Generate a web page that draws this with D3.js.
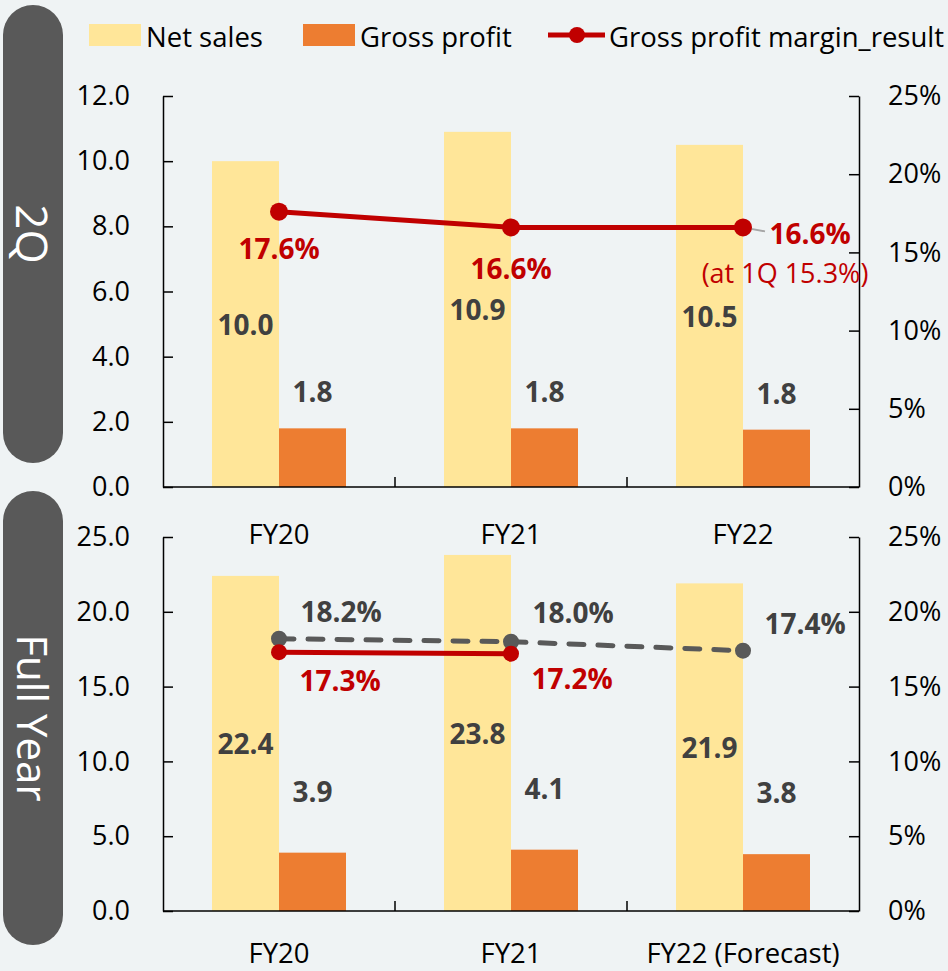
<!DOCTYPE html>
<html>
<head>
<meta charset="utf-8">
<script src="https://cdn.jsdelivr.net/npm/d3@7"></script>
<style>
  html, body { margin: 0; padding: 0; background: #eff3f4; }
  svg { display: block; font-family: "Open Sans", "Noto Sans", sans-serif; }
</style>
</head>
<body>
<svg id="chart" width="948" height="971"></svg>
<script>
// chart values
const categories = ["FY20", "FY21", "FY22"];
const labels2Q = ["FY20", "FY21", "FY22"];
const labelsFY = ["FY20", "FY21", "FY22 (Forecast)"];

const netSales2Q = [10.0, 10.9, 10.5];
const grossProfit2Q = [1.8, 1.8, 1.76];
const marginResult2Q = [17.6, 16.6, 16.6];

const netSalesFY = [22.4, 23.8, 21.9];
const grossProfitFY = [3.9, 4.1, 3.8];
const marginResultFY = [17.3, 17.2];
const marginPlanFY = [18.2, 18.0, 17.4];

const leftTicks2Q = [0, 2, 4, 6, 8, 10, 12];
const leftTicksFY = [0, 5, 10, 15, 20, 25];
const rightTicks = [0, 5, 10, 15, 20, 25];

const colNet = "#ffe699", colGross = "#ed7d31", colRed = "#c00000", colGray = "#595959";
const colLabel = "#404040";

const svg = d3.select("#chart");
const left = 163, right = 859;

const x = d3.scaleBand().domain(categories).range([left, right]);
const sub = d3.scaleBand().domain(["net", "gross"]).range([49, 183]);
const cx = c => x(c) + x.bandwidth() / 2;

// Legend
const lg = svg.append("g").attr("class", "legend");
lg.append("rect").attr("x", 89).attr("y", 24).attr("width", 52).attr("height", 22).attr("fill", colNet);
lg.append("text").attr("x", 146).attr("y", 36).text("Net sales");
lg.append("rect").attr("x", 303).attr("y", 24).attr("width", 52).attr("height", 22).attr("fill", colGross);
lg.append("text").attr("x", 360).attr("y", 36).text("Gross profit");
lg.append("line").attr("x1", 548).attr("x2", 605).attr("y1", 35).attr("y2", 35)
  .attr("stroke", colRed).attr("stroke-width", 5);
lg.append("circle").attr("cx", 577).attr("cy", 35).attr("r", 8).attr("fill", colRed);
lg.append("text").attr("x", 609).attr("y", 36).text("Gross profit margin_result");
lg.selectAll("text").attr("font-size", 27.5).attr("fill", "#000").attr("dominant-baseline", "central");

function panel(opt) {
  const g = svg.append("g");
  const y = d3.scaleLinear().domain([0, opt.yMax]).range([opt.y0, opt.y1]);
  const yr = d3.scaleLinear().domain([0, 25]).range([opt.y0, opt.y1]);

  // side pill
  g.append("rect").attr("x", 3).attr("y", opt.pill[0]).attr("width", 60)
    .attr("height", opt.pill[1] - opt.pill[0]).attr("rx", 30).attr("fill", "#595959");
  g.append("text")
    .attr("transform", `translate(33,${(opt.pill[0] + opt.pill[1]) / 2}) rotate(90)`)
    .attr("text-anchor", "middle").attr("dominant-baseline", "central")
    .attr("font-size", opt.titleSize).attr("fill", "#fff").text(opt.title);

  // bars
  const rows = categories.map((c, i) => ({ c, net: opt.net[i], gross: opt.gross[i] }));
  g.selectAll(".net").data(rows).join("rect").attr("class", "net")
    .attr("x", d => x(d.c) + sub("net")).attr("width", sub.bandwidth())
    .attr("y", d => y(d.net)).attr("height", d => opt.y0 - y(d.net)).attr("fill", colNet);
  g.selectAll(".gross").data(rows).join("rect").attr("class", "gross")
    .attr("x", d => x(d.c) + sub("gross")).attr("width", sub.bandwidth())
    .attr("y", d => y(d.gross)).attr("height", d => opt.y0 - y(d.gross)).attr("fill", colGross);

  // axes
  const ax = g.append("g").attr("transform", `translate(${left},0)`)
    .call(d3.axisLeft(y).tickValues(opt.ticks).tickSize(-10).tickSizeOuter(0)
      .tickPadding(33).tickFormat(d3.format(".1f")));
  const axr = g.append("g").attr("transform", `translate(${right},0)`)
    .call(d3.axisRight(yr).tickValues(rightTicks).tickSize(-10).tickSizeOuter(0)
      .tickPadding(29).tickFormat(d => d + "%"));
  [ax, axr].forEach(a => {
    a.attr("font-family", null).attr("font-size", null);
    a.selectAll("text").attr("font-size", 27).attr("fill", "#000");
    a.selectAll("line,path").attr("stroke", "#000").attr("stroke-width", 1.5);
  });
  g.append("line").attr("x1", left).attr("x2", right).attr("y1", opt.y0).attr("y2", opt.y0)
    .attr("stroke", "#000").attr("stroke-width", 1.5);
  g.selectAll(".xt").data(categories.slice(1)).join("line").attr("class", "xt")
    .attr("x1", d => x(d)).attr("x2", d => x(d))
    .attr("y1", opt.y0).attr("y2", opt.y0 - 10)
    .attr("stroke", "#000").attr("stroke-width", 1.5);
  g.selectAll(".xl").data(categories).join("text").attr("class", "xl")
    .attr("x", cx).attr("y", opt.y0 + opt.xLabelDy)
    .attr("text-anchor", "middle").attr("dominant-baseline", "central")
    .attr("font-size", 27.5).attr("fill", "#000")
    .text((d, i) => opt.xLabels[i]);

  // bar labels
  const nl = g.selectAll(".nl").data(rows).join("text").attr("class", "nl")
    .attr("x", d => x(d.c) + sub("net") + sub.bandwidth() / 2)
    .attr("y", d => (y(d.net) + opt.y0) / 2)
    .text(d => d3.format(".1f")(d.net));
  const gl = g.selectAll(".gl").data(rows).join("text").attr("class", "gl")
    .attr("x", d => x(d.c) + sub("gross") + sub.bandwidth() / 2)
    .attr("y", d => y(d.gross) - opt.grossDy)
    .text(d => d3.format(".1f")(d.gross));
  [nl, gl].forEach(s => s
    .attr("text-anchor", "middle").attr("dominant-baseline", "central")
    .attr("font-size", 28).attr("font-weight", "bold").attr("fill", colLabel));

  return { g, yr };
}

function marginLine(p, values, color, dash, r) {
  const pts = values.map((v, i) => ({ c: categories[i], v }));
  const line = d3.line().x(d => cx(d.c)).y(d => p.yr(d.v));
  p.g.append("path").datum(pts).attr("d", line).attr("fill", "none")
    .attr("stroke", color).attr("stroke-width", 5)
    .attr("stroke-dasharray", dash).attr("stroke-linecap", dash ? "round" : "butt");
  p.g.append("g").selectAll("circle").data(pts).join("circle")
    .attr("cx", d => cx(d.c)).attr("cy", d => p.yr(d.v)).attr("r", r).attr("fill", color);
  return pts;
}

function pctLabels(p, pts, dx, dy, color) {
  p.g.append("g").selectAll("text").data(pts).join("text")
    .attr("x", (d, i) => cx(d.c) + dx[i]).attr("y", (d, i) => p.yr(d.v) + dy[i])
    .attr("text-anchor", "middle").attr("dominant-baseline", "central")
    .attr("font-size", 28).attr("font-weight", "bold").attr("fill", color)
    .text(d => d.v.toFixed(1) + "%");
}

// 2Q panel
const p2Q = panel({
  title: "2Q", titleSize: 44, y0: 487, y1: 96, yMax: 12, ticks: leftTicks2Q, pill: [5, 463],
  net: netSales2Q, gross: grossProfit2Q, xLabels: labels2Q, xLabelDy: 46, grossDy: 37
});
p2Q.g.append("line")
  .attr("x1", cx("FY22")).attr("y1", p2Q.yr(marginResult2Q[2]))
  .attr("x2", cx("FY22") + 22).attr("y2", p2Q.yr(marginResult2Q[2]) + 4)
  .attr("stroke", "#a6a6a6").attr("stroke-width", 2);
const pts2Q = marginLine(p2Q, marginResult2Q, colRed, null, 9);
pctLabels(p2Q, pts2Q, [0, 0, 67], [36, 41, 6], colRed);
p2Q.g.append("text").attr("x", cx("FY22") + 42).attr("y", p2Q.yr(marginResult2Q[2]) + 45)
  .attr("text-anchor", "middle").attr("dominant-baseline", "central")
  .attr("font-size", 27).attr("fill", colRed)
  .text("(at 1Q 15.3%)");

// Full year panel
const pFY = panel({
  title: "Full Year", titleSize: 42, y0: 911, y1: 537, yMax: 25, ticks: leftTicksFY, pill: [491, 945],
  net: netSalesFY, gross: grossProfitFY, xLabels: labelsFY, xLabelDy: 41, grossDy: 62
});
const ptsPlan = marginLine(pFY, marginPlanFY, colGray, "15,14", 8);
const ptsRes = marginLine(pFY, marginResultFY, colRed, null, 8);
pctLabels(pFY, ptsPlan, [62, 62, 62], [-28, -30, -28], colLabel);
pctLabels(pFY, ptsRes, [61, 61], [28, 24], colRed);
</script>
</body>
</html>
